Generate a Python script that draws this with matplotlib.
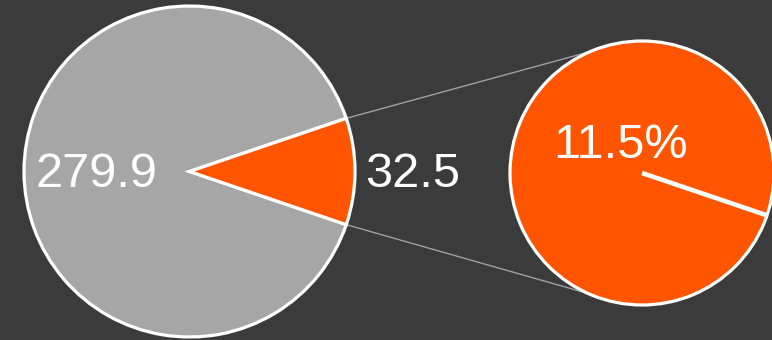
import numpy as np
import matplotlib.pyplot as plt

# data
labels = ['279.9', '32.5']
values = [279.9, 32.5]
colors = ['#a6a6a6', '#ff5400']
sub_values = [32.5]
sub_label = '11.5%'

bg = '#3b3b3b'
plt.rcParams['font.family'] = ['Liberation Sans', 'DejaVu Sans']

fig = plt.figure(figsize=(7.72, 3.40), dpi=100, facecolor=bg)
ax = fig.add_axes([0, 0, 1, 1])
ax.set_facecolor(bg)

# main pie, small slice centred on the right
frac = values[1] / sum(values)
start = -frac * 180
c1, r1 = (189.5, 168.5), 165.5
wedges, _ = ax.pie(values, colors=colors, startangle=start, counterclock=False,
                   center=c1, radius=r1, frame=True,
                   wedgeprops=dict(edgecolor='white', linewidth=2.3))

# labels for main pie
for w, lab, dist in zip(wedges, labels, [0.56, 1.35]):
    mid = np.deg2rad((w.theta1 + w.theta2) / 2)
    ax.text(c1[0] + dist * r1 * np.cos(mid), c1[1] - 3 + dist * r1 * np.sin(mid), lab,
            color='white', fontsize=35, ha='center', va='center')

# second pie, one full slice
c2, r2 = (642, 167), 132
sub_start = -frac * 180
ax.pie(sub_values, colors=[colors[1]], startangle=sub_start, center=c2, radius=r2,
       frame=True, wedgeprops=dict(edgecolor='white', linewidth=2.3))
a = np.deg2rad(sub_start)
ax.plot([c2[0], c2[0] + r2 * np.cos(a)], [c2[1], c2[1] + r2 * np.sin(a)],
        color='white', lw=3.3, solid_capstyle='butt')
ax.text(c2[0] - 21, c2[1] + 28, sub_label, color='white', fontsize=35,
        ha='center', va='center')

# connector lines
for w_ang, p_ang in [(frac * 180, 113), (-frac * 180, -114)]:
    wa, pa = np.deg2rad(w_ang), np.deg2rad(p_ang)
    ax.plot([c1[0] + r1 * np.cos(wa), c2[0] + r2 * np.cos(pa)],
            [c1[1] + r1 * np.sin(wa), c2[1] + r2 * np.sin(pa)],
            color='#a0a0a0', lw=1, zorder=0)

ax.set_xlim(0, 772)
ax.set_ylim(0, 340)
ax.set_aspect('equal')
ax.axis('off')
fig.savefig('out.png', dpi=100, facecolor=bg)
